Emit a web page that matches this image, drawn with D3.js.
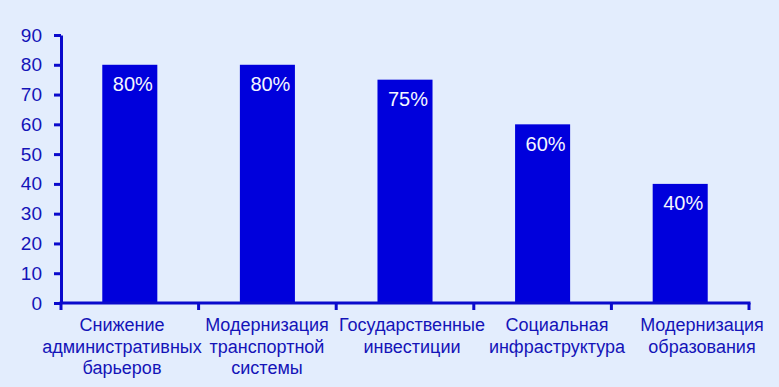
<!DOCTYPE html>
<html><head><meta charset="utf-8">
<script src="https://cdn.jsdelivr.net/npm/d3@7"></script>
<style>
html,body{margin:0;padding:0;background:#E3EDFD;}
svg{display:block;}
</style></head>
<body>
<script>
const categories = [
  ["Снижение","административных","барьеров"],
  ["Модернизация","транспортной","системы"],
  ["Государственные","инвестиции"],
  ["Социальная","инфраструктура"],
  ["Модернизация","образования"]
];
const values = [80, 80, 75, 60, 40];
const valueLabels = ["80%", "80%", "75%", "60%", "40%"];
const yTicks = [0,10,20,30,40,50,60,70,80,90];

const W = 779, H = 387;
const axisColor = "#0A0ACC", barColor = "#0000DC", textColor = "#1414B8";
const svg = d3.select("body").append("svg").attr("width", W).attr("height", H);
svg.append("rect").attr("width", W).attr("height", H).attr("fill", "#E3EDFD");

const x0 = 61, x1 = 749, yTop = 35, yBot = 303;
const idx = categories.map((d,i)=>i);
const x = d3.scaleBand().domain(idx).range([x0, x1]).paddingInner(0.6).paddingOuter(0.3);
const y = d3.scaleLinear().domain([0, 90]).range([yBot, yTop]);
const xl = d3.scalePoint().domain(idx).range([122, 702]);

// bars
svg.selectAll("rect.bar").data(values).join("rect")
  .attr("class","bar")
  .attr("x", (d,i)=>x(i)).attr("width", x.bandwidth())
  .attr("y", d=>y(d)).attr("height", d=>yBot - y(d))
  .attr("fill", barColor);

// value labels
svg.selectAll("text.val").data(values).join("text")
  .attr("class","val")
  .attr("x", (d,i)=>x(i) + x.bandwidth()/2 + 3)
  .attr("y", d=>y(d) + 26.5)
  .attr("text-anchor","middle")
  .attr("fill","#F4F6FF")
  .attr("font-family","Liberation Sans, Arial, sans-serif")
  .attr("font-size", 20)
  .text((d,i)=>valueLabels[i]);

// y axis
const yAxis = d3.axisLeft(y).tickValues(yTicks).tickSize(7).tickPadding(12).tickSizeOuter(0);
const gy = svg.append("g").attr("transform", `translate(${x0},0)`).call(yAxis);
gy.select(".domain").attr("stroke", axisColor).attr("stroke-width", 3);
gy.selectAll(".tick line").attr("stroke", axisColor).attr("stroke-width", 3);
gy.selectAll(".tick text").attr("fill", textColor)
  .attr("font-family","Liberation Sans, Arial, sans-serif").attr("font-size", 19);

// x axis line
svg.append("line").attr("x1", x0-1.5).attr("x2", x1+1.5).attr("y1", yBot).attr("y2", yBot)
  .attr("stroke", axisColor).attr("stroke-width", 3);
// x ticks at band boundaries
const bounds = idx.map(i => x(i) - x.step()*x.paddingInner()/2).concat([x1]);
bounds[0] = x0;
svg.selectAll("line.xt").data(bounds).join("line")
  .attr("class","xt")
  .attr("x1", d=>d).attr("x2", d=>d).attr("y1", yBot).attr("y2", yBot+7)
  .attr("stroke", axisColor).attr("stroke-width", 3);

// category labels
const cl = svg.selectAll("text.cat").data(categories).join("text")
  .attr("class","cat")
  .attr("text-anchor","middle")
  .attr("fill", textColor)
  .attr("font-family","Liberation Sans, Arial, sans-serif")
  .attr("font-size", 18);
cl.each(function(lines, i){
  d3.select(this).selectAll("tspan").data(lines).join("tspan")
    .attr("x", xl(i)).attr("y", (d,j)=>331 + j*21.5).text(d=>d);
});
</script>
</body></html>
